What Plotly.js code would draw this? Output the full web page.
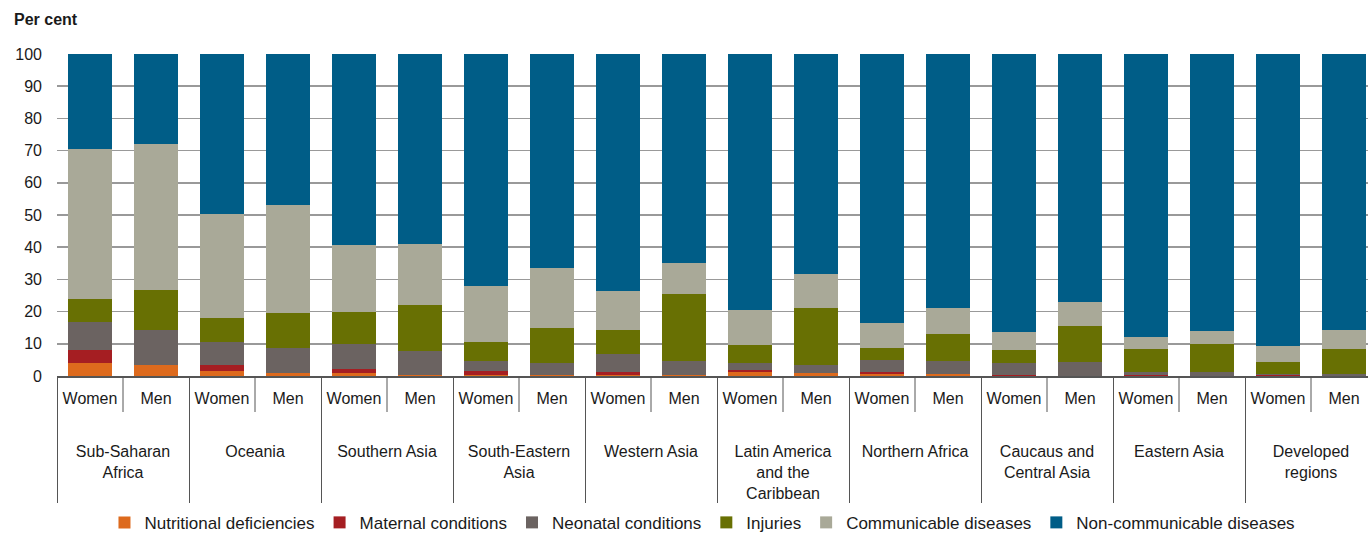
<!DOCTYPE html>
<html><head><meta charset="utf-8">
<script src="https://cdn.plot.ly/plotly-3.0.1.min.js"></script>
<style>html,body{margin:0;padding:0;overflow:hidden;background:#fff}#chart{width:1390px;height:535px}</style>
</head><body><div id="chart"></div>
<script>
const regions = ["Sub-Saharan<br>Africa","Oceania","Southern Asia","South-Eastern<br>Asia","Western Asia","Latin America<br>and the<br>Caribbean","Northern Africa","Caucaus and<br>Central Asia","Eastern Asia","Developed<br>regions"];
const sexes = ["Women","Men"];
const seriesNames = ["Nutritional deficiencies","Maternal conditions","Neonatal conditions","Injuries","Communicable diseases","Non-communicable diseases"];
const seriesColors = ["#DD6A1D","#A51E22","#6B6361","#687003","#A9A998","#005D87"];
const nutritional = [4.0,3.4,1.6,0.9,0.9,0.3,0.3,0.3,0.2,0.3,1.2,0.9,0.5,0.6,0.1,0.1,0.1,0.1,0.1,0.1];
const maternal    = [4.1,0,1.8,0,1.3,0,1.3,0,1.0,0,0.7,0,0.7,0,0.2,0,0.2,0,0.2,0];
const neonatal    = [8.7,11.0,7.3,7.8,7.8,7.5,3.0,3.7,5.7,4.3,2.1,2.5,3.8,4.0,3.7,4.4,0.9,1.1,0.2,0.5];
const injuries    = [7.1,12.3,7.3,10.9,9.9,14.2,6.0,10.9,7.4,20.9,5.6,17.7,3.7,8.4,4.1,11.0,7.2,8.8,3.9,7.8];
const communicable= [46.5,45.3,32.3,33.5,20.8,19.0,17.4,18.6,12.1,9.6,10.9,10.6,7.8,8.1,5.6,7.5,3.7,4.0,4.9,5.9];
const noncommunicable = [29.6,28.0,49.7,46.9,59.3,59.0,72.0,66.5,73.6,64.9,79.5,68.3,83.5,78.9,86.3,77.0,87.9,86.0,90.7,85.7];

const outer = [], inner = [];
regions.forEach(r => sexes.forEach(s => { outer.push("\u00a0<br>\u00a0<br>" + r); inner.push(s); }));
// short dividers between Women and Men inside each region (axis structure, not data)
const shapes = regions.map((r, i) => ({
  type: "line", xref: "x", yref: "paper", x0: i * sexes.length + 0.5, x1: i * sexes.length + 0.5,
  y0: 0, y1: -36 / 322, line: {color: "#555", width: 1}
}));
const allSeries = [nutritional, maternal, neonatal, injuries, communicable, noncommunicable];
const font = "Liberation Sans Narrow, Liberation Sans, Arial, sans-serif";
const traces = allSeries.map((vals, i) => ({
  type: "bar", x: [outer, inner], y: vals, name: seriesNames[i],
  marker: {color: seriesColors[i], line: {width: 0}}, hoverinfo: "y+name"
}));
const layout = {
  width: 1390, height: 535,
  margin: {l: 57, r: 13, t: 54, b: 159, autoexpand: false},
  barmode: "stack", bargap: 0.32,
  paper_bgcolor: "#fff", plot_bgcolor: "#fff",
  font: {family: font, size: 16, color: "#1a1a1a"},
  showlegend: true,
  legend: {orientation: "h", x: 0.489, xanchor: "center", y: -0.456, yanchor: "middle",
           font: {size: 17, color: "#1a1a1a"}, itemwidth: 30, traceorder: "normal"},
  xaxis: {type: "multicategory", showline: true, linecolor: "#555", linewidth: 1.5,
          ticks: "", ticklabelstandoff: 7,
          showdividers: true, dividercolor: "#555", dividerwidth: 1,
          tickfont: {size: 16, color: "#1a1a1a"}, showgrid: false},
  yaxis: {range: [0, 100], dtick: 10, showgrid: true, gridcolor: "#999", gridwidth: 1.5,
          zeroline: false, showline: false, ticks: "", ticklabelstandoff: 14,
          tickfont: {size: 16, color: "#1a1a1a"}, fixedrange: true},
  shapes: shapes,
  annotations: [{text: "<b>Per cent</b>", xref: "paper", yref: "paper", x: -0.034, y: 1.106,
                 xanchor: "left", yanchor: "middle", showarrow: false, font: {size: 16, color: "#1a1a1a"}}]
};
Plotly.newPlot("chart", traces, layout, {displayModeBar: false, staticPlot: true});
</script></body></html>
